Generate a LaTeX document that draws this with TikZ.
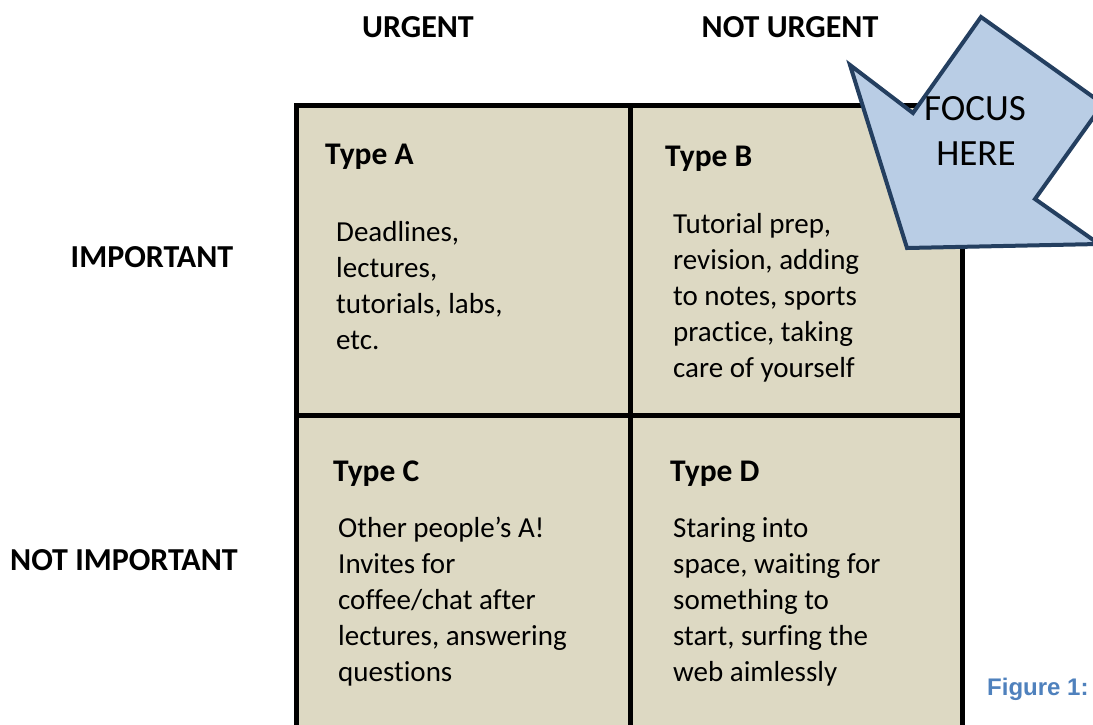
\documentclass[tikz,border=0pt]{standalone}
\usepackage{fontspec}
\setmainfont{Carlito}[Ligatures=NoCommon]
\newfontfamily\figfont{Liberation Sans}
\definecolor{cellfill}{HTML}{DDD9C3}
\definecolor{arrowfill}{HTML}{B9CDE5}
\definecolor{arrowline}{HTML}{243F60}
\definecolor{figblue}{HTML}{4F81BD}
\begin{document}
\begin{tikzpicture}[x=1pt,y=-1pt,
  axislabel/.style={font=\bfseries\fontsize{32}{36}\selectfont, anchor=base, inner sep=0pt},
  typelabel/.style={font=\bfseries\fontsize{31.5}{36}\selectfont, anchor=base west, inner sep=0pt},
  bodytext/.style={font=\fontsize{29}{36}\selectfont, anchor=base west, inner sep=0pt},
  gridline/.style={line width=5pt, draw=black},
  focusarrow/.style={fill=arrowfill, draw=arrowline, line width=4pt, line join=miter}]
\useasboundingbox (0,0) rectangle (1093,724);
\clip (0,0) rectangle (1093,724);
\fill[white] (0,0) rectangle (1093,724);
% cells
\fill[cellfill] (296,105) rectangle (962,740);
\draw[gridline] (296,105) rectangle (962,740);
\draw[gridline] (630,105) -- (630,740);
\draw[gridline] (296,415) -- (962,415);
% axis labels
\node[axislabel] (urg) at (418,37) {URGENT};
\node[axislabel] (nurg) at (790,37) {NOT URGENT};
\node[axislabel] (imp) at (152,267) {IMPORTANT};
\node[axislabel] (nimp) at (124,570) {NOT IMPORTANT};
% type labels
\node[typelabel] (ta) at (325,164) {Type A};
\node[typelabel] (tb) at (665,166) {Type B};
\node[typelabel] (tc) at (333,481) {Type C};
\node[typelabel] (td) at (670,481) {Type D};
% body texts
\node[bodytext] (ba) at (336,241) {\parbox[t]{280pt}{\raggedright Deadlines,\\ lectures,\\ tutorials, labs,\\ etc.}};
\node[bodytext] (bb) at (673,233) {\parbox[t]{280pt}{\raggedright Tutorial prep,\\ revision, adding\\ to notes, sports\\ practice, taking\\ care of yourself}};
\node[bodytext] (bc) at (338,537) {\parbox[t]{280pt}{\raggedright Other people’s A!\\ Invites for\\ coffee/chat after\\ lectures, answering\\ questions}};
\node[bodytext] (bd) at (673,537) {\parbox[t]{280pt}{\raggedright Staring into\\ space, waiting for\\ something to\\ start, surfing the\\ web aimlessly}};
% arrow
\draw[focusarrow] (907,248) -- (850,65) -- (913,113) -- (981,17) -- (1103,104) -- (1035,199) -- (1099,244) -- cycle;
\node[font=\fontsize{37}{40}\selectfont, anchor=base, inner sep=0pt] (f1) at (975,120) {FOCUS};
\node[font=\fontsize{37}{40}\selectfont, anchor=base, inner sep=0pt] (f2) at (976,165) {HERE};
% figure caption
\node[font=\figfont\bfseries\fontsize{24}{26}\selectfont, text=figblue, anchor=base west, inner sep=0pt] (fig) at (987,695) {Figure 1:};
\end{tikzpicture}
\end{document}
